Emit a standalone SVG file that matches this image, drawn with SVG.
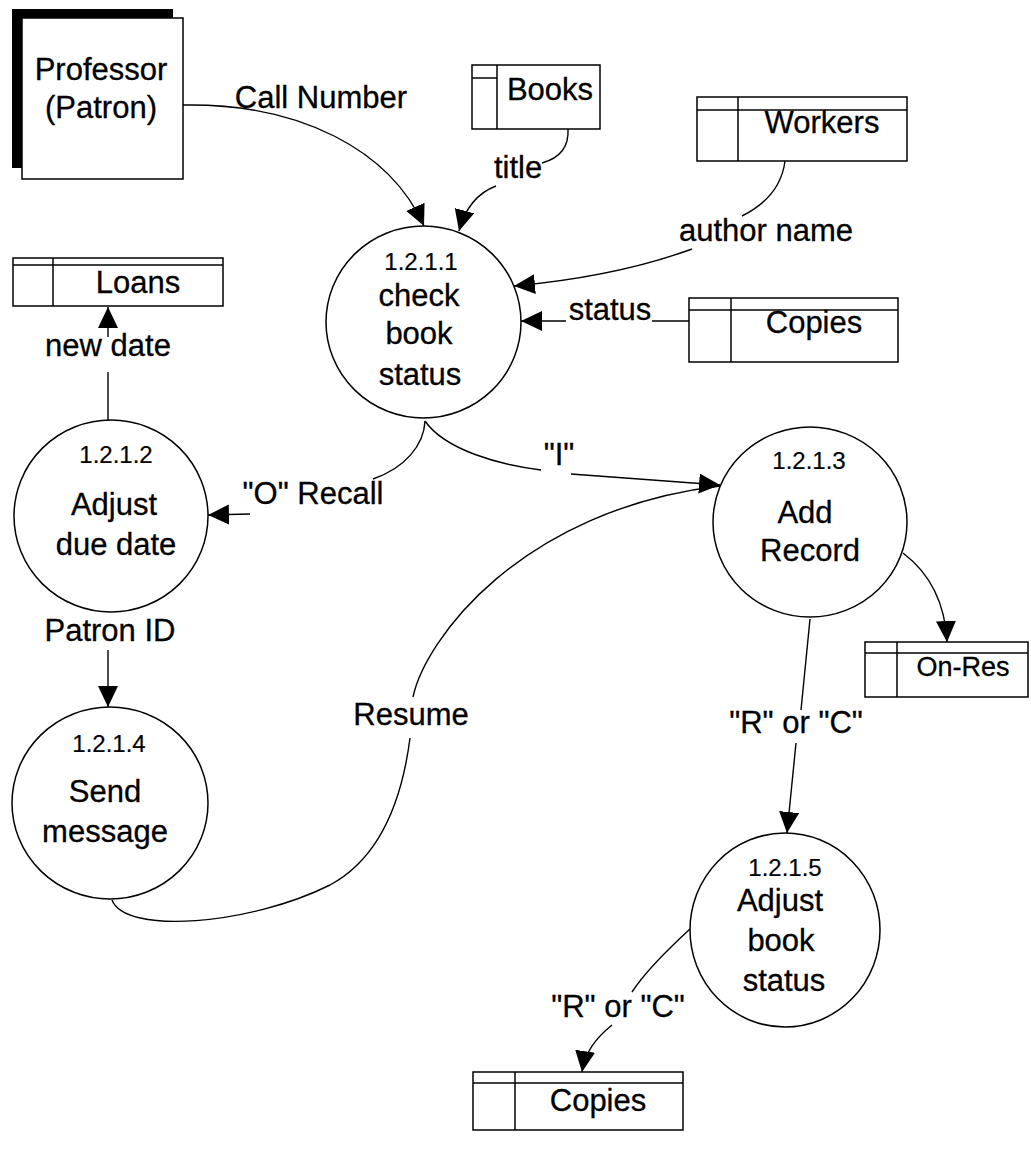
<svg xmlns="http://www.w3.org/2000/svg" width="1031" height="1163" viewBox="0 0 1031 1163">
<defs>
<marker id="arr" markerUnits="userSpaceOnUse" markerWidth="24" markerHeight="22" refX="21" refY="10" orient="auto">
<path d="M0,0 L21,10 L0,20 z" fill="#000"/>
</marker>
<style>
.t{font-family:"Liberation Sans",Arial,sans-serif;font-size:31px;fill:#000;stroke:#000;stroke-width:0.3;text-anchor:middle}
.n{font-family:"Liberation Sans",Arial,sans-serif;font-size:24px;fill:#000;stroke:#000;stroke-width:0.2;text-anchor:middle}
.p{fill:#fff;stroke:#000;stroke-width:1.5}
.s{fill:#fff;stroke:#000;stroke-width:1.5}
.l{fill:none;stroke:#000;stroke-width:1.5}
.c{fill:none;stroke:#000;stroke-width:1.4}
</style>
</defs>
<rect width="1031" height="1163" fill="#fff"/>

<g id="professor">
<rect x="12" y="9" width="161" height="10" fill="#000"/>
<rect x="12" y="9" width="10" height="159" fill="#000"/>
<rect class="s" x="22" y="18" width="161" height="161"/>
<text class="t" x="101" y="80">Professor</text>
<text class="t" x="101" y="118">(Patron)</text>
</g>

<g id="books">
<rect class="s" x="472" y="65" width="128" height="64"/>
<line class="l" x1="497" y1="65" x2="497" y2="129"/>
<line class="l" x1="472" y1="78" x2="497" y2="78"/>
<text class="t" x="550" y="100">Books</text>
</g>

<g id="workers">
<rect class="s" x="697" y="97" width="210" height="64"/>
<line class="l" x1="738" y1="97" x2="738" y2="161"/>
<line class="l" x1="697" y1="110" x2="907" y2="110"/>
<text class="t" x="822" y="133">Workers</text>
</g>

<g id="copies-top">
<rect class="s" x="689" y="298" width="209" height="64"/>
<line class="l" x1="731" y1="298" x2="731" y2="362"/>
<line class="l" x1="689" y1="310" x2="898" y2="310"/>
<text class="t" x="814" y="333">Copies</text>
</g>

<g id="loans">
<rect class="s" x="13" y="258" width="210" height="48"/>
<line class="l" x1="53" y1="258" x2="53" y2="306"/>
<line class="l" x1="13" y1="265" x2="223" y2="265"/>
<text class="t" x="138" y="293">Loans</text>
</g>

<g id="onres">
<rect class="s" x="865" y="642" width="163" height="55"/>
<line class="l" x1="897" y1="642" x2="897" y2="697"/>
<line class="l" x1="865" y1="653" x2="1028" y2="653"/>
<text class="t" x="963" y="676" style="font-size:27px">On-Res</text>
</g>

<g id="copies-bottom">
<rect class="s" x="473" y="1072" width="210" height="58"/>
<line class="l" x1="515" y1="1072" x2="515" y2="1130"/>
<line class="l" x1="473" y1="1083" x2="683" y2="1083"/>
<text class="t" x="598" y="1111">Copies</text>
</g>

<g id="p1211">
<ellipse class="p" cx="423.5" cy="322" rx="97.5" ry="96"/>
<text class="n" x="421" y="270">1.2.1.1</text>
<text class="t" x="419" y="306">check</text>
<text class="t" x="419" y="344">book</text>
<text class="t" x="420" y="385">status</text>
</g>

<g id="p1212">
<ellipse class="p" cx="111" cy="516" rx="97" ry="96"/>
<text class="n" x="116" y="463">1.2.1.2</text>
<text class="t" x="114" y="515">Adjust</text>
<text class="t" x="116" y="555">due date</text>
</g>

<g id="p1213">
<ellipse class="p" cx="810" cy="522" rx="97" ry="95"/>
<text class="n" x="809" y="469">1.2.1.3</text>
<text class="t" x="805" y="523">Add</text>
<text class="t" x="810" y="561">Record</text>
</g>

<g id="p1214">
<ellipse class="p" cx="110" cy="803" rx="98" ry="96"/>
<text class="n" x="109" y="752">1.2.1.4</text>
<text class="t" x="105" y="802">Send</text>
<text class="t" x="105" y="842">message</text>
</g>

<g id="p1215">
<ellipse class="p" cx="785" cy="930" rx="95" ry="97"/>
<text class="n" x="785" y="876">1.2.1.5</text>
<text class="t" x="780" y="911">Adjust</text>
<text class="t" x="781" y="951">book</text>
<text class="t" x="784" y="991">status</text>
</g>

<g id="connectors">
<path class="c" d="M183,105 C300,103 390,150 424,226" marker-end="url(#arr)"/>
<text class="t" x="321" y="108">Call Number</text>

<path class="c" d="M568,129 C569,146 560,158 542,163"/>
<path class="c" d="M496,186 C480,192 466,205 459,231" marker-end="url(#arr)"/>
<text class="t" x="518" y="178">title</text>

<path class="c" d="M785,161 C782,185 768,203 742,216"/>
<path class="c" d="M692,249 C640,268 580,280 514,286" marker-end="url(#arr)"/>
<text class="t" x="766" y="241">author name</text>

<path class="c" d="M689,321 L652,321"/>
<path class="c" d="M566,321 L521,321" marker-end="url(#arr)"/>
<text class="t" x="610" y="320">status</text>

<path class="c" d="M108,337 L108,307" marker-end="url(#arr)"/>
<path class="c" d="M108,372 L108,420"/>
<text class="t" x="108" y="356">new date</text>

<path class="c" d="M425,421 C424,445 405,468 373,479"/>
<path class="c" d="M250,514 L208,515" marker-end="url(#arr)"/>
<text class="t" x="313" y="504">"O" Recall</text>

<path class="c" d="M425,421 C445,450 500,465 541,470"/>
<path class="c" d="M571,474 L720,485" marker-end="url(#arr)"/>
<text class="t" x="559" y="465">"I"</text>

<path class="c" d="M108,650 L108,707" marker-end="url(#arr)"/>
<text class="t" x="110" y="641">Patron ID</text>

<path class="c" d="M112,900 C125,935 250,925 330,885 C380,858 402,800 410,738"/>
<path class="c" d="M413,697 C425,640 520,510 720,486"/>
<text class="t" x="411" y="725">Resume</text>

<path class="c" d="M903,553 C928,572 945,600 947,642" marker-end="url(#arr)"/>

<path class="c" d="M810,619 L801,710"/>
<path class="c" d="M796,743 L787,833" marker-end="url(#arr)"/>
<text class="t" x="796" y="733">"R" or "C"</text>

<path class="c" d="M690,929 C665,952 645,972 632,992"/>
<path class="c" d="M612,1025 C596,1038 585,1052 582,1072" marker-end="url(#arr)"/>
<text class="t" x="618" y="1017">"R" or "C"</text>
</g>
</svg>
